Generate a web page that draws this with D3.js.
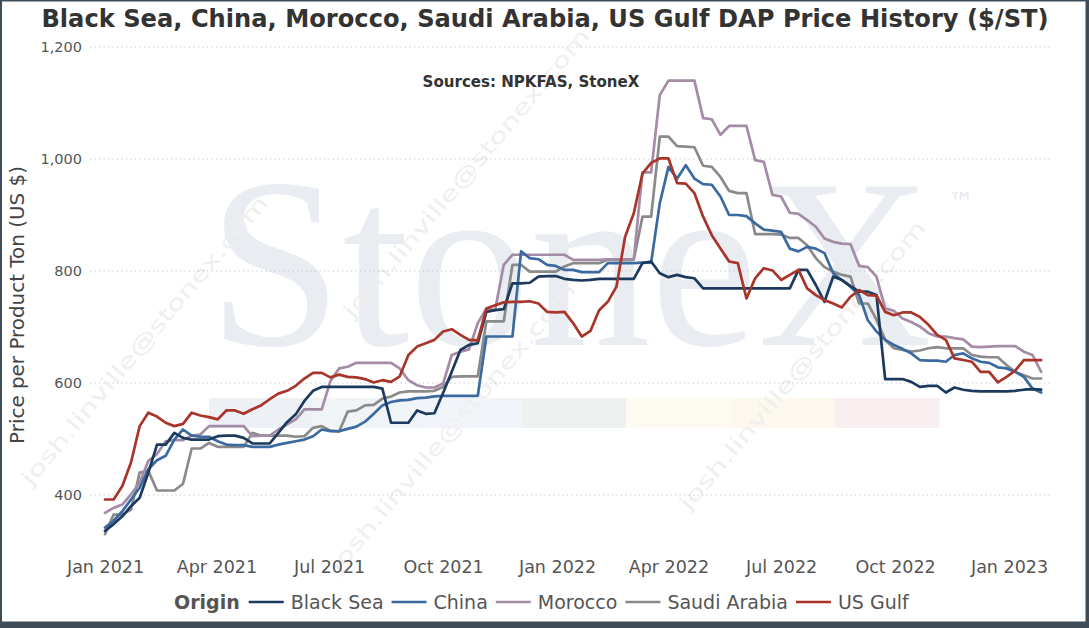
<!DOCTYPE html>
<html>
<head>
<meta charset="utf-8">
<script src="https://cdn.jsdelivr.net/npm/d3@7"></script>
<style>
  html, body { margin: 0; padding: 0; background: #fff; }
  svg { display: block; font-family: "DejaVu Sans", Verdana, sans-serif; }
</style>
</head>
<body>
<svg id="chart"></svg>
<script>
// weekly DAP prices, $/short ton, first week = 1 Jan 2021
const firstWeek = new Date(2021, 0, 1);

const blackSea = [336,348,362,380,395,440,490,490,511,502,499,499,499,505,506,506,502,492,492,492,
  511,530,544,568,586,593,593,593,593,593,593,593,590,529,529,529,551,545,546,582,
  620,659,668,671,727,730,732,778,778,779,790,791,791,786,784,783,784,786,786,786,
  786,786,814,817,796,789,793,789,787,769,769,769,769,769,769,769,769,769,769,769,
  802,802,775,745,790,784,773,763,763,757,607,607,607,602,593,595,595,583,592,588,
  586,585,585,585,585,586,588,589,588];

const china = [342,354,371,392,413,446,462,470,499,517,506,504,504,496,490,489,489,486,486,486,
  490,493,496,499,505,517,514,514,518,522,531,545,560,566,569,570,573,574,576,577,
  577,577,577,577,683,683,683,683,835,823,821,811,809,802,802,798,798,798,814,814,
  814,814,815,815,921,986,965,989,965,955,954,933,900,900,898,885,874,872,870,840,
  835,843,840,832,796,784,772,757,712,692,677,668,661,653,641,640,640,638,650,653,
  644,638,636,628,626,620,611,590,583];

const morocco = [368,377,383,401,422,461,473,496,498,498,506,508,523,523,523,523,523,505,506,506,
  517,526,535,553,553,553,603,626,629,636,636,636,636,636,626,605,596,592,592,599,
  650,656,660,707,733,730,811,829,829,829,829,829,829,829,820,820,820,820,821,821,
  821,821,976,976,1114,1140,1140,1140,1140,1073,1071,1043,1059,1059,1059,998,995,936,933,904,
  902,891,879,858,852,849,848,809,807,790,733,729,715,709,701,689,683,683,680,678,
  665,664,665,666,666,666,656,650,620];

const saudiArabia = [330,365,365,374,440,443,408,408,408,420,483,483,493,486,486,486,486,511,506,506,
  506,506,504,505,520,523,515,513,549,551,560,561,572,576,583,585,585,585,586,593,
  611,612,612,612,710,710,710,811,811,799,799,799,799,808,814,814,814,814,820,820,
  820,820,897,897,1040,1040,1023,1022,1021,988,986,968,943,939,939,866,866,866,865,859,
  859,846,823,807,799,793,790,742,742,713,677,662,659,656,658,662,664,662,662,662,
  650,647,646,646,632,620,614,608,608];

const usGulf = [392,392,416,458,523,547,540,529,523,527,547,542,539,535,551,551,545,553,560,571,
  581,586,595,608,618,618,610,615,611,610,607,601,605,602,612,650,665,671,677,692,
  696,686,677,676,733,739,744,745,745,746,742,727,726,727,707,683,693,730,745,772,
  861,903,974,993,1001,1001,957,956,939,897,864,840,817,814,751,787,805,801,784,793,
  802,769,757,748,742,735,754,766,757,756,727,721,726,726,718,704,686,677,644,641,
  638,620,620,601,611,622,641,641,641];

const origins = ["Black Sea", "China", "Morocco", "Saudi Arabia", "US Gulf"];
const colors = ["#1c3a5e", "#3b6aa0", "#a48ba6", "#8a8a8a", "#a8342a"];
const seriesValues = [blackSea, china, morocco, saudiArabia, usGulf];

const yTicks = [400, 600, 800, 1000, 1200];
const xTickLabels = ["Jan 2021", "Apr 2021", "Jul 2021", "Oct 2021", "Jan 2022",
  "Apr 2022", "Jul 2022", "Oct 2022", "Jan 2023"];

const W = 1089, H = 628;
const weeks = blackSea.map((_, i) => d3.timeDay.offset(firstWeek, 7 * i));
const parseTick = d3.timeParse("%b %Y");

const svg = d3.select("#chart").attr("width", W).attr("height", H);

const x = d3.scaleTime()
  .domain([new Date(2021, 0, 1), new Date(2023, 0, 1)])
  .range([105, 1009]);

const y = d3.scaleLinear()
  .domain([400, 1200])
  .range([495, 47]);

// scale a text's font so it fills a given width
function fit(sel, target) {
  const fs = parseFloat(sel.style("font-size"));
  const w = sel.node().getComputedTextLength();
  sel.style("font-size", (fs * target / w) + "px");
}

// ---- background watermark ----
const wm = svg.append("g").attr("id", "watermark");

const bandColors = ["#edf1f5", "#f0f4f7", "#f1f5f9", "#edf2f0", "#fdfbf1", "#fdf8ee", "#f9eef0"];
wm.selectAll("rect.band")
  .data(bandColors)
  .enter()
  .append("rect")
  .attr("class", "band")
  .attr("x", (d, i) => 209 + i * 104.3)
  .attr("y", 398)
  .attr("width", 104.6)
  .attr("height", 30)
  .attr("fill", d => d);

const logo = wm.append("text")
  .attr("x", 208)
  .attr("y", 345)
  .style("font-family", "'Liberation Serif', 'DejaVu Serif', serif")
  .style("font-size", "255px")
  .attr("fill", "#e9edf1")
  .text("StoneX");
fit(logo, 724);

wm.append("text")
  .attr("x", 948)
  .attr("y", 211)
  .style("font-size", "26px")
  .attr("fill", "#e6eaee")
  .text("™");

const stamps = [[150, 345], [472, 178], [458, 432], [808, 370]];
wm.selectAll("text.stamp")
  .data(stamps)
  .enter()
  .append("text")
  .attr("class", "stamp")
  .attr("text-anchor", "middle")
  .attr("transform", d => `translate(${d[0]},${d[1]}) rotate(-50)`)
  .attr("textLength", 370)
  .attr("lengthAdjust", "spacingAndGlyphs")
  .style("font-size", "21px")
  .attr("fill", "#efefef")
  .text("josh.linville@stonex.com");

// ---- grid ----
svg.append("g")
  .selectAll("line")
  .data(yTicks)
  .enter()
  .append("line")
  .attr("x1", 90)
  .attr("x2", 1053)
  .attr("y1", d => y(d))
  .attr("y2", d => y(d))
  .attr("stroke", "#c4c4c4")
  .attr("stroke-width", 1.2)
  .attr("stroke-dasharray", "1.2,3.3");

// ---- axes ----
const yAxis = d3.axisLeft(y)
  .tickValues(yTicks)
  .tickSize(0)
  .tickPadding(3)
  .tickFormat(d3.format(","));

svg.append("g")
  .attr("id", "y-axis")
  .attr("transform", "translate(85,0)")
  .call(yAxis)
  .call(g => g.select(".domain").remove())
  .selectAll("text")
  .style("font-family", "'DejaVu Sans', Verdana, sans-serif")
  .style("font-size", "14.5px")
  .attr("fill", "#555");

const xAxis = d3.axisBottom(x)
  .tickValues(xTickLabels.map(parseTick))
  .tickSize(0)
  .tickPadding(6)
  .tickFormat(d3.timeFormat("%b %Y"));

svg.append("g")
  .attr("id", "x-axis")
  .attr("transform", "translate(0,555)")
  .call(xAxis)
  .call(g => g.select(".domain").remove())
  .selectAll("text")
  .style("font-family", "'DejaVu Sans', Verdana, sans-serif")
  .style("font-size", "17.5px")
  .attr("fill", "#555");

const yTitle = svg.append("text")
  .attr("transform", "translate(24,305) rotate(-90)")
  .attr("text-anchor", "middle")
  .style("font-size", "19px")
  .attr("fill", "#444")
  .text("Price per Product Ton (US $)");
fit(yTitle, 278);

// ---- lines ----
const line = d3.line()
  .x((d, i) => x(weeks[i]))
  .y(d => y(d));

const drawOrder = [3, 2, 1, 0, 4];
svg.append("g")
  .selectAll("path")
  .data(drawOrder)
  .enter()
  .append("path")
  .attr("d", k => line(seriesValues[k]))
  .attr("fill", "none")
  .attr("stroke", k => colors[k])
  .attr("stroke-width", 2.7)
  .attr("stroke-linejoin", "round")
  .attr("stroke-linecap", "round");

// ---- titles ----
const title = svg.append("text")
  .attr("x", 545)
  .attr("y", 27)
  .attr("text-anchor", "middle")
  .style("font-size", "22px")
  .style("font-weight", "bold")
  .attr("fill", "#333")
  .text("Black Sea, China, Morocco, Saudi Arabia, US Gulf DAP Price History ($/ST)");
fit(title, 1008);

const subtitle = svg.append("text")
  .attr("x", 531)
  .attr("y", 87)
  .attr("text-anchor", "middle")
  .style("font-size", "13px")
  .style("font-weight", "bold")
  .attr("fill", "#333")
  .text("Sources: NPKFAS, StoneX");
fit(subtitle, 217);

// ---- legend ----
const legend = svg.append("g").attr("transform", "translate(0,609)");
let lx = 174;
const head = legend.append("text")
  .attr("x", lx)
  .style("font-size", "19px")
  .style("font-weight", "bold")
  .attr("fill", "#555")
  .text("Origin");
lx += head.node().getComputedTextLength() + 9;

origins.forEach((name, k) => {
  legend.append("line")
    .attr("x1", lx)
    .attr("x2", lx + 35)
    .attr("y1", -7)
    .attr("y2", -7)
    .attr("stroke", colors[k])
    .attr("stroke-width", 2.7);
  lx += 42;
  const t = legend.append("text")
    .attr("x", lx)
    .style("font-size", "19px")
    .attr("fill", "#555")
    .text(name);
  lx += t.node().getComputedTextLength() + 8;
});

// ---- frame ----
svg.append("rect")
  .attr("x", 1)
  .attr("y", 0.5)
  .attr("width", W - 3.5)
  .attr("height", H - 6)
  .attr("fill", "none")
  .attr("stroke", "#3f4d58")
  .attr("stroke-width", 2);
svg.append("rect")
  .attr("x", 0)
  .attr("y", H - 6)
  .attr("width", W)
  .attr("height", 6)
  .attr("fill", "#3f4d58");
svg.append("rect")
  .attr("x", W - 3)
  .attr("y", 0)
  .attr("width", 3)
  .attr("height", H)
  .attr("fill", "#3f4d58");
</script>
</body>
</html>
